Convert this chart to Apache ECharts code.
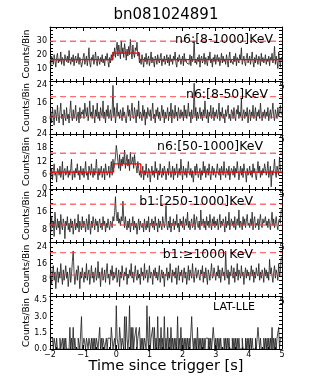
<!DOCTYPE html>
<html>
<head>
<meta charset="utf-8">
<script src="https://cdn.jsdelivr.net/npm/echarts@6/dist/echarts.min.js"></script>
<style>
html, body { margin: 0; padding: 0; background: #fff; }
#chart { width: 332px; height: 388px; }
</style>
</head>
<body>
<div id="chart"></div>
<script>
// GBM light curves: counts per 0.025 s bin, starting at -2 s (one row = 0.5 s)
var binW = 0.025;
var tMin = -2, tMax = 5;

// n6 [8-1000] keV
var n6Total = [
  15,12,19,17,13,20,16,11,18,21,14,17,15,22,13,18,16,12,20,17,
  15,19,14,23,16,13,18,15,20,12,17,19,14,16,21,13,18,15,11,14,
  18,21,13,16,19,12,17,25,14,11,18,16,20,13,17,22,15,12,19,16,
  13,18,15,20,14,17,12,19,16,21,15,11,18,14,20,16,22,19,25,18,
  24,29,19,27,22,17,30,21,25,18,28,23,16,24,19,26,20,31,22,17,
  27,21,18,25,23,29,19,22,14,17,13,20,16,11,18,15,21,13,17,19,
  12,16,22,14,18,15,11,19,17,13,20,16,14,18,21,12,17,15,19,13,
  16,20,14,18,12,20,15,17,13,19,16,22,14,11,18,15,20,17,13,16,
  19,12,21,15,17,14,14,13,16,20,12,19,15,17,30,14,16,13,18,15,
  20,11,17,19,14,16,21,13,18,15,12,19,16,22,14,17,11,18,15,20,
  13,17,20,15,18,12,16,21,14,19,15,17,13,20,16,11,18,22,14,16,
  17,13,19,15,21,12,18,16,14,20,17,25,13,16,19,15,12,18,21,14,
  16,19,13,17,22,15,11,18,14,20,16,13,19,17,12,21,15,18,14,16,
  20,13,17,15,19,12,18,16,21,14,17,26,13,19,15,10,22,16,11,18
];
// n6 [8-50] keV
var n6Soft = [
  9,12,7,14,10,6,13,11,8,15,10,7,12,16,9,11,6,13,10,8,
  14,9,11,7,12,17,10,8,13,9,11,15,8,10,12,7,14,9,12,11,
  13,9,16,12,10,14,8,11,17,10,12,9,15,11,7,13,10,16,9,12,
  8,14,11,10,17,9,12,7,13,10,15,9,11,13,8,12,24,10,14,7,
  11,16,10,12,9,13,11,8,14,10,12,9,7,11,15,10,13,8,12,16,
  10,9,14,11,7,13,10,17,9,12,11,8,15,10,13,6,12,9,14,11,
  10,13,8,12,16,9,11,7,13,10,14,9,12,8,11,15,10,13,7,12,
  9,11,14,8,12,10,16,7,13,11,9,15,10,12,8,14,11,9,13,10,
  12,8,15,10,13,9,11,16,10,12,7,13,9,11,25,10,14,8,12,9,
  11,14,9,12,8,13,10,17,11,9,13,7,12,10,15,9,11,14,8,12,
  10,13,9,11,16,8,12,10,14,9,11,7,13,10,12,15,9,11,8,13,
  12,9,14,10,8,13,11,15,9,12,10,18,8,11,13,9,12,10,14,7,
  11,13,8,12,10,15,9,11,14,8,12,10,13,9,16,11,8,12,10,13,
  9,12,10,14,8,11,13,9,12,16,10,8,13,11,9,14,10,12,15,11
];
// n6 [50-1000] keV
var n6Hard = [
  7,5,9,4,8,11,6,7,3,9,8,6,10,5,7,12,4,8,9,6,
  7,10,5,8,6,9,13,4,7,8,5,9,7,11,6,8,4,10,7,6,
  9,5,8,12,6,7,4,10,8,6,11,7,5,9,6,8,13,7,4,9,
  6,8,10,5,7,9,4,11,8,6,7,10,5,8,12,6,13,9,11,14,
  19,16,12,9,15,8,13,10,14,11,17,9,12,15,10,13,8,16,11,12,
  14,9,15,11,10,7,12,9,6,8,5,7,10,4,8,6,11,7,5,9,
  8,3,7,10,6,8,5,12,7,9,4,8,6,11,7,5,9,6,10,8,
  4,7,9,6,12,8,5,7,10,4,9,6,8,11,5,7,9,6,13,8,
  4,10,7,6,9,5,8,12,7,6,9,5,8,3,7,10,6,11,8,5,
  7,9,4,8,6,12,7,10,5,8,9,6,11,7,4,8,10,6,9,7,
  5,8,11,7,6,9,4,10,8,6,12,7,5,9,8,6,10,4,7,9,
  8,6,10,5,9,7,12,8,4,7,10,6,9,5,11,8,7,3,9,6,
  7,10,6,8,5,11,7,9,6,4,8,12,7,10,5,8,6,9,7,11,
  9,6,8,12,5,7,10,1,8,6,9,13,7,5,10,8,6,14,9,7
];
// b1 [250-1000] keV
var b1Mid = [
  11,7,14,9,12,5,16,10,8,13,9,12,6,15,10,8,13,11,4,12,
  10,14,8,11,7,13,9,12,6,10,13,8,11,9,15,7,12,10,8,14,
  9,12,10,7,13,11,8,15,10,6,12,9,14,11,8,13,10,12,7,11,
  13,9,11,8,14,10,12,7,11,9,13,10,8,12,11,9,14,12,16,23,
  15,12,16,11,13,10,14,12,21,13,9,14,10,8,12,9,13,7,11,10,
  14,8,12,9,11,6,10,13,8,12,10,9,11,7,13,10,8,12,9,14,
  7,11,10,13,9,12,8,14,10,11,7,13,9,12,10,8,14,11,9,12,
  19,10,8,12,9,14,7,11,10,13,8,12,10,15,9,11,7,13,10,12,
  9,14,8,11,13,10,16,9,12,8,11,13,9,10,15,8,12,14,10,9,
  12,8,17,10,11,13,9,12,8,14,10,12,9,15,11,8,13,10,14,9,
  12,10,13,8,11,15,9,12,10,13,11,7,14,9,12,10,16,8,11,13,
  10,12,9,14,8,11,13,10,17,9,12,11,8,14,10,13,9,12,15,10,
  11,9,13,10,16,8,12,14,9,11,10,13,8,12,15,10,9,13,11,12,
  14,10,12,9,13,11,8,12,16,10,13,9,11,14,10,8,12,13,11,17
];
// b1 >1000 keV
var b1High = [
  9,13,6,11,15,8,12,4,10,14,7,12,9,16,10,6,13,8,11,15,
  9,12,5,10,14,7,11,17,22,12,6,10,13,8,15,11,4,12,9,14,
  10,7,12,9,16,8,11,13,6,10,15,9,12,7,11,14,8,10,17,9,
  12,5,11,14,8,10,13,7,12,16,9,11,6,13,10,15,8,12,9,11,
  14,7,10,13,5,12,9,15,11,8,12,10,14,6,11,9,13,10,16,9,
  12,7,11,15,10,8,13,9,11,6,14,10,12,8,16,9,11,13,7,10,
  15,9,12,11,6,13,10,14,9,12,8,11,15,7,10,13,9,12,5,11,
  10,14,8,12,9,16,11,7,13,10,12,9,14,6,11,15,8,12,10,13,
  7,11,14,9,12,6,10,15,8,13,11,9,16,10,7,12,14,9,11,13,
  10,8,13,11,15,7,12,9,14,10,6,13,11,8,12,16,9,10,14,11,
  8,12,10,15,9,13,7,11,14,10,12,8,22,11,9,13,6,12,10,15,
  11,9,14,7,12,10,16,8,13,11,9,15,10,12,6,11,14,9,13,10,
  12,8,11,15,10,13,7,12,9,14,11,10,16,8,12,9,13,11,7,14,
  10,13,9,12,8,18,11,14,10,7,12,15,9,13,11,8,16,10,12,19
];

// LAT-LLE, 0.025 s bins, only the non-empty ones: [start time, counts]
var lleBinW = 0.025;
var lleBins = [
  [-2.0,1],[-1.975,1],[-1.95,1],[-1.925,1],[-1.875,1],[-1.85,1],[-1.8,1],
  [-1.7,1],[-1.625,1],[-1.575,1],[-1.525,1],[-1.4,2],[-1.35,1],[-1.3,2],
  [-1.25,1],[-1.15,1],[-1.125,1],[-1.05,3],[-0.975,1],[-0.95,1],[-0.9,1],
  [-0.875,1],[-0.825,1],[-0.8,1],[-0.75,1],[-0.7,1],[-0.65,1],[-0.6,1],
  [-0.575,1],[-0.5,2],[-0.45,1],[-0.4,1],[-0.375,1],[-0.3,1],[-0.25,1],
  [-0.225,1],[-0.2,1],[-0.15,2],[-0.125,1],[-0.05,1],[0.0,4],[0.025,1],
  [0.05,1],[0.1,2],[0.125,1],[0.175,1],[0.2,1],[0.25,3],[0.3,3],[0.325,1],
  [0.375,1],[0.4,4],[0.45,2],[0.5,2],[0.55,1],[0.575,1],[0.6,2],[0.65,1],
  [0.675,1],[0.7,2],[0.75,1],[0.8,1],[0.85,1],[0.875,1],[0.925,4],[0.95,1],
  [1.0,3],[1.05,1],[1.075,1],[1.1,2],[1.15,2],[1.2,1],[1.25,3],[1.3,1],
  [1.35,2],[1.4,1],[1.45,3],[1.5,1],[1.55,2],[1.6,1],[1.65,2],[1.7,1],
  [1.75,1],[1.8,1],[1.85,3],[1.9,1],[1.95,2],[2.0,1],[2.05,1],[2.1,1],
  [2.15,1],[2.2,1],[2.275,3],[2.3,1],[2.35,1],[2.4,1],[2.45,2],[2.5,1],
  [2.55,1],[2.6,1],[2.65,1],[2.7,1],[2.725,1],[2.75,1],[2.8,1],[2.85,1],
  [2.925,2],[2.95,2],[3.0,1],[3.05,1],[3.1,1],[3.15,1],[3.25,1],[3.3,1],
  [3.35,1],[3.4,1],[3.5,1],[3.55,1],[3.6,1],[3.65,1],[3.7,1],[3.8,1],
  [3.9,1],[3.95,1],[4.0,1],[4.05,1],[4.1,1],[4.2,1],[4.275,2],[4.3,1],
  [4.35,1],[4.45,1],[4.5,1],[4.55,1],[4.6,1],[4.65,1],[4.7,2],[4.75,1],
  [4.8,1],[4.85,1],[4.875,1],[4.9,2],[4.95,1],[4.975,1]
];

// bayesian blocks: edges (s) and levels (counts/bin)
var n6TotalEdges = [-2, -0.1, 0.7, 5];
var n6TotalLevels = [16.4, 21.2, 16.4];
var n6HardEdges = [-2, -0.08, 0.74, 5];
var n6HardLevels = [7.4, 11.0, 7.4];

// dashed reference levels
var n6TotalDashed = [29.7];
var n6SoftDashed = [18.9, 9.6];
var n6HardDashed = [15.6];
var b1MidDashed = [19.6, 10.2];
var b1HighDashed = [21.2, 10.5];

// y tick labels of each panel
var ticks1 = [10, 20, 30];
var ticks2 = [8, 16, 24];
var ticks3 = [0, 6, 12, 18, 24];
var ticks4 = [8, 16, 24];
var ticks5 = [8, 16, 24];
var ticks6 = [0, 1.5, 3, 4.5];

var lleCounts = [];
for (var i = 0; i < Math.round((tMax - tMin) / lleBinW); i++) lleCounts.push(0);
lleBins.forEach(function (b) {
  lleCounts[Math.round((b[0] - tMin) / lleBinW)] = b[1];
});

var panels = [
  {label: 'n6:[8-1000]KeV', counts: n6Total, w: binW, min: 1, max: 40, ticks: ticks1, minor: 2.5,
    edges: n6TotalEdges, levels: n6TotalLevels, dashed: n6TotalDashed, top: 27, h: 54, right: 54, ly: 28},
  {label: 'n6:[8-50]KeV', counts: n6Soft, w: binW, min: 2, max: 26, ticks: ticks2, minor: 2,
    dashed: n6SoftDashed, top: 81, h: 53, right: 59, ly: 83},
  {label: 'n6:[50-1000]KeV', counts: n6Hard, w: binW, min: 0, max: 24, ticks: ticks3, minor: 1.5,
    edges: n6HardEdges, levels: n6HardLevels, dashed: n6HardDashed, top: 134, h: 55, right: 64, ly: 135},
  {label: 'b1:[250-1000]KeV', counts: b1Mid, w: binW, min: 2.5, max: 26.5, ticks: ticks4, minor: 2,
    dashed: b1MidDashed, top: 189, h: 53, right: 74, ly: 190},
  {label: 'b1:\u22651000 KeV', counts: b1High, w: binW, min: 0.5, max: 26.3, ticks: ticks5, minor: 2,
    dashed: b1HighDashed, top: 242, h: 54, right: 74, ly: 243},
  {label: 'LAT-LLE', counts: lleCounts, w: lleBinW, min: 0, max: 4.9, ticks: ticks6, minor: 0.375,
    dashed: [], top: 296, h: 53, right: 72, ly: 297, lsize: 11}
];

var font = 'DejaVu Sans';
var black = {color: '#000', width: 1};

function stepData(counts, w) {
  var d = counts.map(function (c, i) { return [+(tMin + i * w).toFixed(4), c]; });
  d.push([tMax, counts[counts.length - 1]]);
  return d;
}
function minorList(p) {
  var out = [];
  for (var v = Math.ceil(p.min / p.minor) * p.minor; v <= p.max + 1e-9; v += p.minor) out.push(+v.toFixed(4));
  return out;
}
function fmtX(v) { return v < 0 ? '\u2212' + (-v) : '' + v; }

var option = {
  animation: false,
  backgroundColor: '#fff',
  title: [{text: 'bn081024891', left: 'center', top: 3,
    textStyle: {fontFamily: font, fontSize: 15, fontWeight: 'normal', color: '#000'}}],
  grid: [], xAxis: [], yAxis: [], series: []
};

panels.forEach(function (p, k) {
  var last = k === panels.length - 1;
  option.grid.push({left: 50, width: 232, top: p.top, height: p.h});
  option.title.push({text: p.label, right: p.right, top: p.ly,
    textStyle: {fontFamily: font, fontSize: p.lsize || 12.5, fontWeight: 'normal', color: '#000'}});

  // bottom and top x axes
  option.xAxis.push({
    type: 'value', gridIndex: k, min: tMin, max: tMax, interval: 1, position: 'bottom',
    axisLine: {onZero: false, lineStyle: black}, splitLine: {show: false},
    axisTick: {inside: true, length: 4, lineStyle: black},
    minorTick: {show: true, splitNumber: 5, length: 2, lineStyle: black},
    axisLabel: {fontFamily: font, fontSize: 8, color: '#000', margin: 2,
      formatter: function (v) { return last || v === 5 ? fmtX(v) : ''; }},
    name: last ? 'Time since trigger [s]' : '', nameLocation: 'middle', nameGap: 10,
    nameMoveOverlap: false,
    nameTextStyle: {fontFamily: font, fontSize: 14.5, color: '#000'}
  });
  option.xAxis.push({
    type: 'value', gridIndex: k, min: tMin, max: tMax, interval: 1, position: 'top',
    axisLine: {onZero: false, lineStyle: black}, splitLine: {show: false}, axisLabel: {show: false},
    axisTick: {inside: true, length: 4, lineStyle: black},
    minorTick: {show: true, splitNumber: 5, length: 2, lineStyle: black}
  });

  // left and right y axes
  var minors = minorList(p);
  option.yAxis.push({
    type: 'value', gridIndex: k, min: p.min, max: p.max, position: 'left',
    axisLine: {show: true, onZero: false, lineStyle: black}, splitLine: {show: false},
    axisTick: {show: true, inside: true, length: 3, lineStyle: black, customValues: minors},
    axisLabel: {fontFamily: font, fontSize: 8, color: '#000', margin: 3, customValues: p.ticks,
      formatter: function (v) { return last ? v.toFixed(1) : '' + v; }},
    name: 'Counts/Bin', nameLocation: 'middle', nameGap: 19, nameMoveOverlap: false,
    nameTextStyle: {fontFamily: font, fontSize: 9, color: '#000'}
  });
  option.yAxis.push({
    type: 'value', gridIndex: k, min: p.min, max: p.max, position: 'right',
    axisLine: {show: true, onZero: false, lineStyle: black}, splitLine: {show: false}, axisLabel: {show: false},
    axisTick: {show: true, inside: true, length: 3, lineStyle: black, customValues: minors}
  });

  var xi = 2 * k, yi = 2 * k;
  option.series.push({
    type: 'line', xAxisIndex: xi, yAxisIndex: yi, step: 'end', symbol: 'none',
    data: stepData(p.counts, p.w), lineStyle: {color: '#1a1a1a', width: 0.8}, z: 2
  });
  p.dashed.forEach(function (lv) {
    option.series.push({
      type: 'line', xAxisIndex: xi, yAxisIndex: yi, symbol: 'none',
      data: [[tMin, lv], [tMax, lv]],
      lineStyle: {color: 'rgba(255,60,60,0.75)', width: 1.3, type: [6, 4]}, z: 3
    });
  });
  if (p.edges) {
    var bb = p.levels.map(function (lv, j) { return [p.edges[j], lv]; });
    bb.push([p.edges[p.edges.length - 1], p.levels[p.levels.length - 1]]);
    option.series.push({
      type: 'line', xAxisIndex: xi, yAxisIndex: yi, step: 'end', symbol: 'none',
      data: bb, lineStyle: {color: '#ff0000', width: 1.3}, z: 4
    });
  }
});

var chart = echarts.init(document.getElementById('chart'));
chart.setOption(option);
</script>
</body>
</html>
